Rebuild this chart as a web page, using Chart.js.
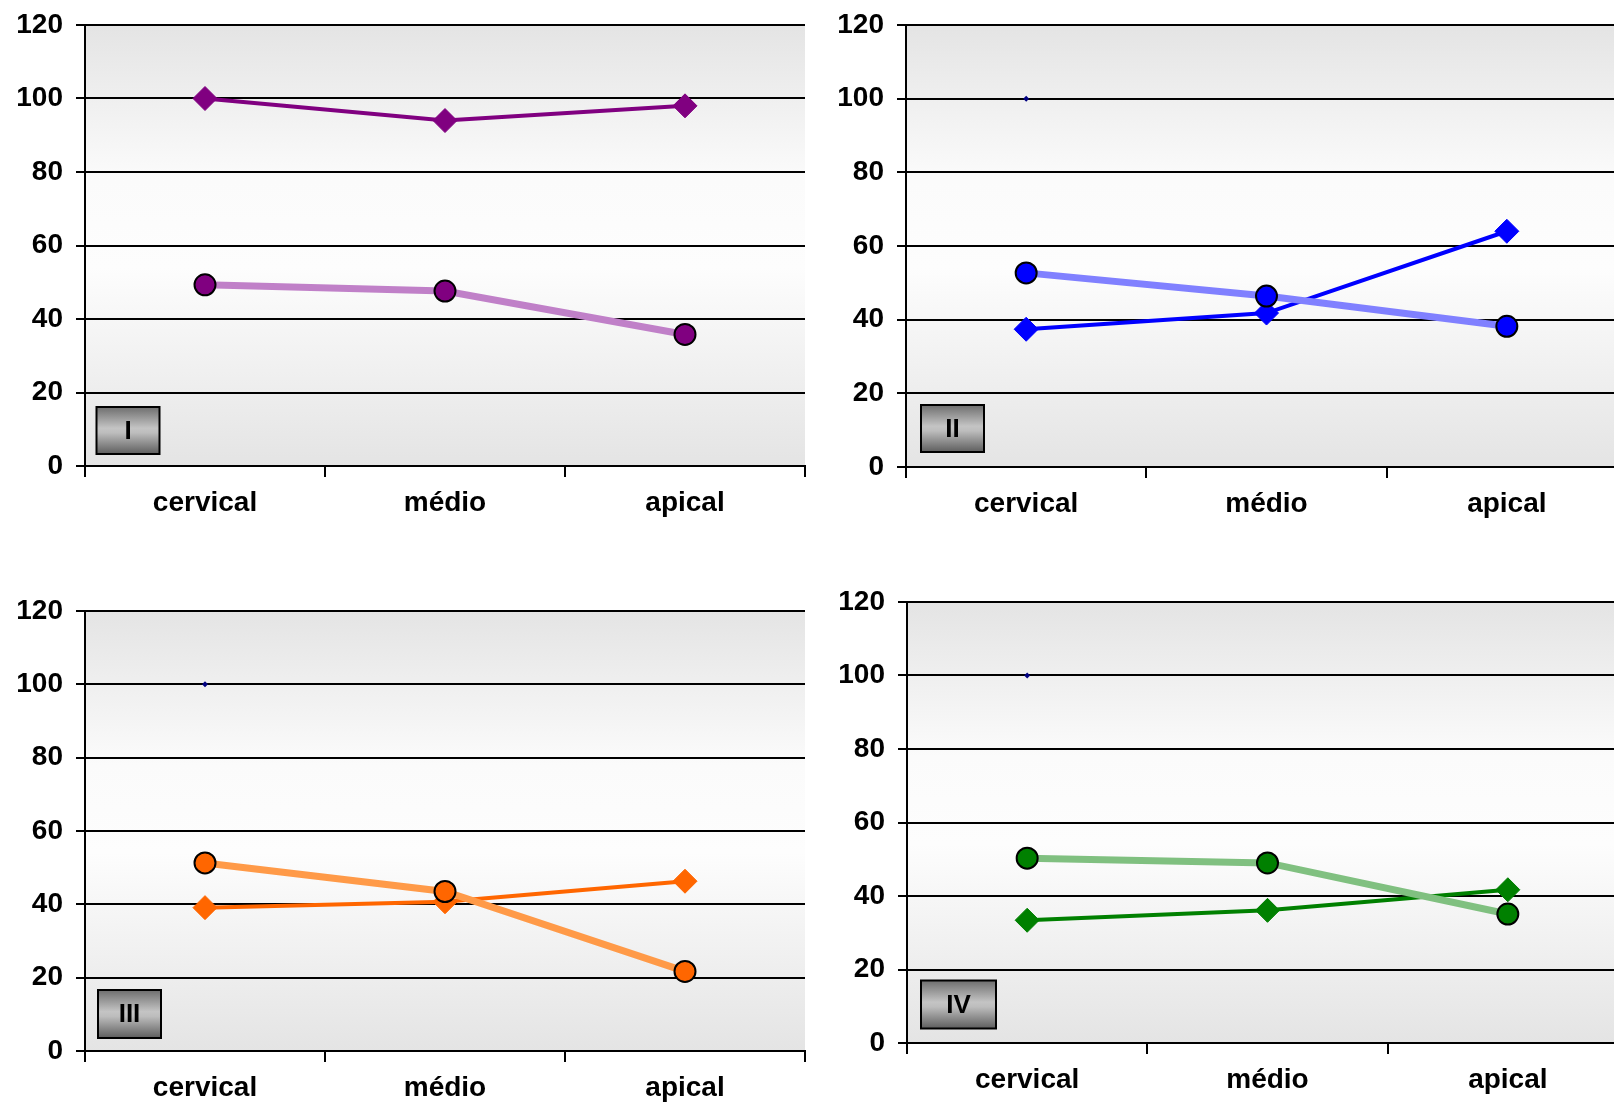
<!DOCTYPE html>
<html>
<head>
<meta charset="utf-8">
<script src="https://cdn.jsdelivr.net/npm/chart.js@4/dist/chart.umd.min.js"></script>
<style>
  html, body { margin: 0; padding: 0; background: #fff; overflow: hidden; }
  body { width: 1614px; height: 1104px; position: relative; }
  .caixa { position: absolute; }
  canvas { display: block; }
</style>
</head>
<body>
<div class="caixa" style="left:0px;top:0px;width:818px;height:540px"><canvas id="g1" width="818" height="540"></canvas></div>
<div class="caixa" style="left:821px;top:0px;width:819px;height:540px"><canvas id="g2" width="819" height="540"></canvas></div>
<div class="caixa" style="left:0px;top:560px;width:818px;height:544px"><canvas id="g3" width="818" height="544"></canvas></div>
<div class="caixa" style="left:822px;top:560px;width:819px;height:544px"><canvas id="g4" width="819" height="544"></canvas></div>
<script>
// categorias e valores
const categorias = ['cervical', 'médio', 'apical']
const yTicks = [0, 20, 40, 60, 80, 100, 120]

const losangoI = [100, 94, 98]
const circuloI = [49.3, 47.6, 35.8]
const losangoII = [37.4, 41.8, 64]
const circuloII = [52.7, 46.4, 38.2]
const losangoIII = [39.1, 40.7, 46.3]
const circuloIII = [51.3, 43.5, 21.7]
const losangoIV = [33.4, 36.1, 41.7]
const circuloIV = [50.3, 49, 35.1]
// ponto pequeno azul escuro em 100 (cervical)
const marcador = [100, null, null]

const fonte = "'Liberation Sans', Arial, sans-serif"

// fundo em degrade + caixinha com o numero do grafico
const fundoPlugin = {
    id: 'fundo',
    beforeDraw(chart){
        const a = chart.chartArea
        const ctx = chart.ctx
        const g = ctx.createLinearGradient(0, a.top, 0, a.bottom)
        g.addColorStop(0, '#e4e4e4')
        g.addColorStop(0.35, '#fbfbfb')
        g.addColorStop(0.55, '#fdfdfd')
        g.addColorStop(1, '#e4e4e4')
        ctx.save()
        ctx.fillStyle = g
        ctx.fillRect(a.left, a.top, a.right - a.left, a.bottom - a.top)
        ctx.restore()
    },
    afterDraw(chart, args, opts){
        if(!opts.texto) return
        const a = chart.chartArea
        const ctx = chart.ctx
        const x = a.left + opts.dx
        const y = a.bottom - opts.dy
        const g = ctx.createLinearGradient(0, y, 0, y + opts.h)
        g.addColorStop(0, '#6e6e6e')
        g.addColorStop(0.45, '#c4c4c4')
        g.addColorStop(0.55, '#bdbdbd')
        g.addColorStop(1, '#5e5e5e')
        ctx.save()
        ctx.fillStyle = g
        ctx.fillRect(x, y, opts.w, opts.h)
        ctx.lineWidth = 2
        ctx.strokeStyle = '#000'
        ctx.strokeRect(x, y, opts.w, opts.h)
        ctx.fillStyle = '#000'
        ctx.font = 'bold 26px ' + fonte
        ctx.textAlign = 'center'
        ctx.textBaseline = 'middle'
        ctx.fillText(opts.texto, x + opts.w / 2, y + opts.h / 2 + 1)
        ctx.restore()
    }
}

function montar(id, losango, circulo, cor, corClara, comMarcador, padTop, alturaX, tag){
    const datasets = [
        {
            data: circulo,
            borderColor: corClara,
            borderWidth: 7,
            pointStyle: 'circle',
            pointRadius: 10.5,
            pointBackgroundColor: cor,
            pointBorderColor: '#000',
            pointBorderWidth: 2,
            tension: 0
        },
        {
            data: losango,
            borderColor: cor,
            borderWidth: 4,
            pointStyle: 'rectRot',
            pointRadius: 12,
            pointBackgroundColor: cor,
            pointBorderColor: cor,
            pointBorderWidth: 1,
            tension: 0
        }
    ]
    if(comMarcador){
        datasets.push({
            data: marcador,
            showLine: false,
            pointStyle: 'rectRot',
            pointRadius: 3,
            pointBackgroundColor: '#000080',
            pointBorderColor: '#000080',
            pointBorderWidth: 0
        })
    }
    return new Chart(document.getElementById(id), {
        type: 'line',
        data: { labels: categorias, datasets },
        plugins: [fundoPlugin],
        options: {
            responsive: false,
            animation: false,
            devicePixelRatio: 1,
            layout: { padding: { top: padTop, right: 0, bottom: 0, left: 0 } },
            plugins: {
                legend: { display: false },
                tooltip: { enabled: false },
                fundo: tag
            },
            scales: {
                x: {
                    offset: true,
                    afterFit: s => { s.height = alturaX; s.paddingLeft = 0; s.paddingRight = 0 },
                    grid: { offset: true, drawOnChartArea: false, drawTicks: true, tickLength: 11, color: '#000', lineWidth: 2 },
                    border: { display: true, color: '#000', width: 2 },
                    ticks: { color: '#000', padding: 9, font: { family: fonte, size: 28, weight: 'bold' } }
                },
                y: {
                    min: 0,
                    max: 120,
                    afterFit: s => { s.width = 85; s.paddingTop = 0; s.paddingBottom = 0 },
                    afterBuildTicks: s => { s.ticks = yTicks.map(v => ({ value: v })) },
                    grid: { color: '#000', lineWidth: 2, drawTicks: true, tickLength: 9, tickColor: '#000' },
                    border: { display: true, color: '#000', width: 2 },
                    ticks: { color: '#000', padding: 13, font: { family: fonte, size: 28, weight: 'bold' } }
                }
            }
        }
    })
}

montar('g1', losangoI, circuloI, '#800080', '#c080c8', false, 25, 74, { texto: 'I', dx: 11.5, dy: 59, w: 63, h: 47 })
montar('g2', losangoII, circuloII, '#0000ff', '#8080ff', true, 25, 73, { texto: 'II', dx: 15, dy: 62, w: 63, h: 47 })
montar('g3', losangoIII, circuloIII, '#ff6600', '#ff9a48', true, 51, 53, { texto: 'III', dx: 13, dy: 61, w: 63, h: 48 })
montar('g4', losangoIV, circuloIV, '#008000', '#80c080', true, 42, 61, { texto: 'IV', dx: 14, dy: 62.5, w: 75, h: 48 })
</script>
</body>
</html>
